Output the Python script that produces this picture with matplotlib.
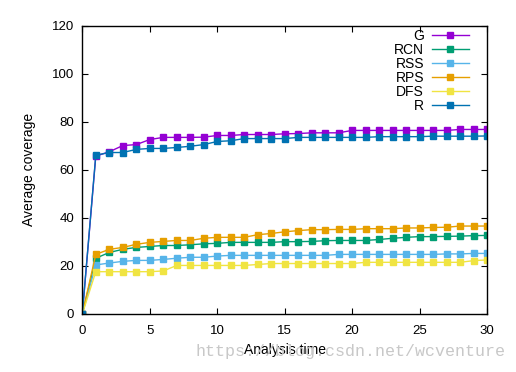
import matplotlib
matplotlib.use("Agg")
import matplotlib.pyplot as plt

plt.rcParams['font.family'] = ['Liberation Sans', 'DejaVu Sans']

# analysis time 0..30
t = list(range(31))

G = [0, 65.7, 67.5, 70.1, 70.5, 72.6, 73.5, 73.5, 73.5, 73.6, 74.3, 74.3, 74.7, 74.7, 74.7, 75.0,
     75.1, 75.4, 75.4, 75.4, 76.4, 76.4, 76.4, 76.4, 76.4, 76.4, 76.4, 76.4, 76.8, 76.8, 76.8]
RCN = [0, 23.2, 25.6, 26.9, 27.7, 28.1, 28.5, 28.5, 28.8, 29.2, 29.4, 29.8, 29.8, 29.8, 29.8, 30.1,
       30.1, 30.2, 30.5, 30.6, 30.6, 30.6, 31.0, 31.5, 31.9, 32.2, 32.2, 32.3, 32.4, 32.6, 32.7]
RSS = [0, 20.4, 21.2, 21.9, 22.3, 22.3, 22.7, 23.2, 23.6, 23.6, 24.1, 24.4, 24.4, 24.4, 24.4, 24.4,
       24.4, 24.4, 24.4, 24.8, 24.8, 24.8, 24.8, 24.8, 24.8, 24.8, 24.8, 25.0, 25.0, 25.2, 25.2]
RPS = [0, 24.8, 26.9, 27.7, 29.0, 29.8, 30.2, 30.6, 30.6, 31.5, 31.9, 31.9, 31.9, 33.0, 33.5, 34.2,
       34.7, 35.1, 35.1, 35.2, 35.2, 35.5, 35.5, 35.5, 35.8, 35.8, 36.0, 36.1, 36.6, 36.6, 36.6]
DFS = [0, 17.6, 17.6, 17.6, 17.6, 17.6, 17.9, 20.2, 20.2, 20.2, 20.2, 20.2, 20.2, 20.6, 21.0, 21.0,
       21.0, 21.0, 21.0, 21.0, 21.0, 21.5, 21.5, 21.5, 21.5, 21.5, 21.5, 21.5, 21.5, 22.2, 22.5]
R = [0, 66.1, 67.2, 67.2, 68.5, 68.9, 68.9, 69.3, 69.8, 70.5, 71.8, 72.1, 73.0, 73.0, 73.0, 73.0,
     73.5, 73.5, 73.5, 73.5, 73.5, 73.5, 73.8, 73.8, 73.8, 73.8, 74.0, 74.0, 74.0, 74.0, 74.1]

series = [("G", G, "#9400d3"), ("RCN", RCN, "#009e73"), ("RSS", RSS, "#56b4e9"),
          ("RPS", RPS, "#e69f00"), ("DFS", DFS, "#f0e442"), ("R", R, "#0072b2")]

fig = plt.figure(figsize=(5.16, 3.72), dpi=100)
ax = fig.add_axes([0.1595, 0.156, 0.7845, 0.775])

for name, vals, col in series:
    ax.plot(t, vals, color=col, lw=1.0, marker="s", markersize=4.5, label=name)

ax.set_xlim(0, 30)
ax.set_ylim(0, 120)
ax.set_xticks(range(0, 31, 5))
ax.set_yticks(range(0, 121, 20))
ax.tick_params(direction="in", top=True, right=True, length=4, labelsize=9.5)
ax.tick_params(axis="x", pad=8)
ax.tick_params(axis="y", pad=6)
for s in ax.spines.values():
    s.set_linewidth(1.0)

ax.set_xlabel("Analysis time", fontsize=10, labelpad=4)
ax.set_ylabel("Average coverage", fontsize=10, labelpad=11)

ax.legend(loc="upper right", bbox_to_anchor=(0.9555, 0.988), frameon=False, markerfirst=False,
          fontsize=10, handlelength=2.7, labelspacing=0.0, borderaxespad=0, borderpad=0,
          handletextpad=0.55)

# watermark
fig.text(0.979, 0.044, "https://blog.csdn.net/wcventure", ha="right", va="baseline",
         fontsize=12, color="#c8c8c8", family="Liberation Mono")

fig.savefig("out.png", dpi=100)
